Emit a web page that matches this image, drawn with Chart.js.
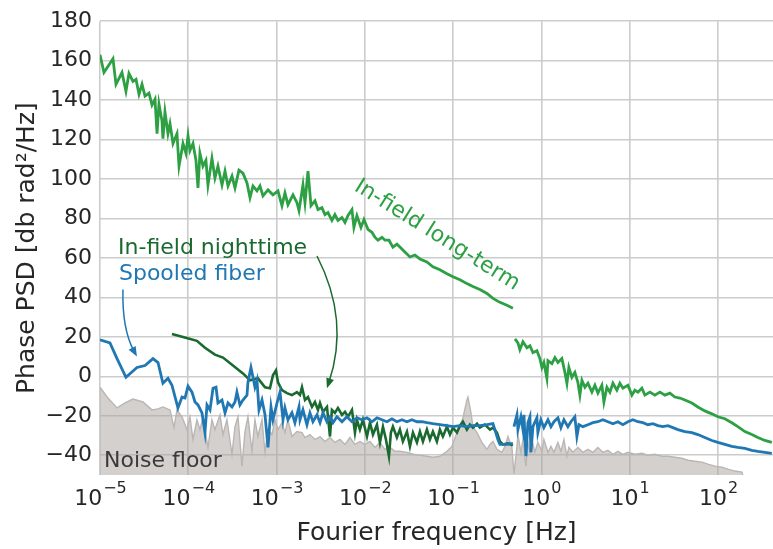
<!DOCTYPE html>
<html>
<head>
<meta charset="utf-8"/>
<style>
  html,body{margin:0;padding:0;background:#fff;}
  canvas{display:block;}
</style>
</head>
<body>
<canvas id="c" width="773" height="549"></canvas>
<script src="https://cdn.jsdelivr.net/npm/chart.js@4.4.0/dist/chart.umd.min.js"></script>
<script>
// frequencies are kept as log10(Hz); values in dB rad^2/Hz
const longTermLogHz = [-5.00,-4.955,-4.853,-4.819,-4.751,-4.706,-4.672,-4.626,-4.592,-4.558,-4.524,-4.490,-4.445,-4.411,-4.377,-4.354,-4.332,-4.298,-4.287,-4.264,-4.230,-4.207,-4.173,-4.128,-4.105,-4.060,-4.026,-4.003,-3.981,-3.947,-3.913,-3.890,-3.868,-3.834,-3.800,-3.777,-3.732,-3.698,-3.664,-3.618,-3.584,-3.550,-3.505,-3.471,-3.426,-3.381,-3.335,-3.301,-3.267,-3.222,-3.188,-3.154,-3.097,-3.041,-2.984,-2.939,-2.905,-2.871,-2.814,-2.769,-2.746,-2.701,-2.678,-2.644,-2.610,-2.565,-2.531,-2.486,-2.452,-2.418,-2.373,-2.339,-2.305,-2.259,-2.225,-2.191,-2.146,-2.124,-2.090,-2.044,-2.010,-1.965,-1.920,-1.886,-1.852,-1.806,-1.772,-1.727,-1.682,-1.637,-1.603,-1.546,-1.489,-1.433,-1.376,-1.297,-1.229,-1.150,-1.070,-1.002,-0.923,-0.844,-0.776,-0.697,-0.617,-0.549,-0.470,-0.391,-0.323,-0.311,
  -0.300,-0.266,-0.244,-0.209,-0.164,-0.130,-0.096,-0.051,-0.017,0.006,0.028,0.062,0.074,0.119,0.153,0.187,0.232,0.266,0.289,0.311,0.345,0.379,0.413,0.436,0.459,0.493,0.527,0.572,0.606,0.640,0.685,0.708,0.742,0.776,0.810,0.855,0.889,0.923,0.980,1.025,1.059,1.093,1.138,1.172,1.229,1.285,1.342,1.399,1.455,1.512,1.569,1.625,1.704,1.772,1.851,1.931,1.999,2.078,2.157,2.225,2.305,2.384,2.452,2.531,2.610];
const longTermDb = [163,154,161,148,154,144.5,153.5,149.5,150.5,143,148,142,143.5,137.5,140.5,123,138,129.5,120.5,134,123,128,118,123,106.5,118,113,122,114.5,118,109.5,95.5,113,106.5,109.5,97,110.5,100.5,106.5,97,104,96.5,101.5,95.5,104.5,103,98,90.5,96.5,94,96.5,91.5,94.5,92,94,86.5,93,87,92,88,84,97,88,104,86.5,89,84.5,85.5,82,83,79,82,79,80.5,78,81.5,84.5,75.5,81.5,75.5,79.5,74.5,73,70.5,69,70.5,69,69,65.5,67,65.5,63,60.5,61.5,59.5,58,55.5,54,52,50.5,49,47,45.5,44,42,39.5,37.5,36,34.5,null,
  19,17,13.5,17.5,14.5,15.5,12,13,9,4.5,7,-1,8,6.5,9.5,7,9,2,-3.5,4.5,-0.5,2,-3,-9.5,-2,-5.5,-3.5,-8,-4.5,-8.5,-4.5,-13,-5.5,-8,-3.5,-7,-3.5,-6,-4.5,-9.5,-7,-8,-6,-9.5,-8,-9.5,-8,-9.5,-8.5,-10.5,-11,-12,-13.5,-15.5,-17.5,-19,-20.5,-21.5,-23.5,-25.5,-28,-29.5,-31,-32.5,-33.5];

const spooledLogHz = [-5.00,-4.887,-4.807,-4.706,-4.581,-4.490,-4.400,-4.343,-4.287,-4.230,-4.185,-4.117,-4.071,-4.037,-4.003,-3.958,-3.924,-3.890,-3.845,-3.811,-3.788,-3.754,-3.720,-3.686,-3.664,-3.618,-3.584,-3.550,-3.505,-3.471,-3.449,-3.415,-3.381,-3.335,-3.324,-3.290,-3.267,-3.245,-3.222,-3.199,-3.165,-3.131,-3.097,-3.063,-3.041,-2.995,-2.961,-2.927,-2.905,-2.871,-2.826,-2.792,-2.746,-2.735,-2.701,-2.656,-2.622,-2.588,-2.542,-2.508,-2.474,-2.429,-2.395,-2.361,-2.316,-2.259,-2.203,-2.146,-2.090,-2.033,-1.976,-1.920,-1.863,-1.806,-1.750,-1.693,-1.637,-1.580,-1.523,-1.467,-1.410,-1.353,-1.297,-1.229,-1.150,-1.070,-1.002,-0.923,-0.844,-0.776,-0.697,-0.617,-0.549,-0.527,-0.493,-0.470,-0.391,-0.323,-0.317,
  -0.311,-0.277,-0.266,-0.232,-0.209,-0.198,-0.175,-0.153,-0.130,-0.119,-0.096,-0.051,-0.040,-0.006,0.028,0.074,0.108,0.142,0.187,0.221,0.255,0.300,0.334,0.379,0.402,0.425,0.470,0.527,0.583,0.640,0.696,0.753,0.810,0.866,0.923,0.980,1.036,1.093,1.149,1.206,1.263,1.319,1.376,1.433,1.489,1.546,1.625,1.704,1.772,1.851,1.931,1.999,2.078,2.157,2.225,2.305,2.384,2.452,2.531,2.610];
const spooledDb = [18.5,17,9,-0.5,4.5,5.5,9,7,-3.5,-1,-4.5,-16,-10.5,-11,-5,-8,-13,-14.5,-18.5,-28.5,-14.5,-17,-6,-5.5,-13.5,-12,-18.5,-13.5,-15.5,-13,-8,-14.5,-12,-9.5,-3,4.5,-0.5,-5.5,-2,-17,-12,-19.5,-36,-15.5,-22,-13.5,-8,-22,-16,-22,-18.5,-23.5,-15.5,-22,-17,-24.5,-18.5,-23,-19.5,-23.5,-18.5,-23,-20.5,-23.5,-20.5,-23,-20.5,-23,-21,-22,-21,-23,-21,-22,-23,-21.5,-23,-22,-23,-22,-23,-23,-23.5,-24,-24.5,-25,-25.5,-25,-25.5,-25,-25,-24.5,-24,-27,-32,-34.5,-34.5,-34,null,
  -25.5,-19.5,-27,-20.5,-27,-19.5,-40.5,-23.5,-20.5,-38.5,-25.5,-21,-28.5,-22,-26,-22,-25.5,-23,-21,-26,-22,-25.5,-23,-20.5,-30.5,-24.5,-25.5,-24.5,-23.5,-23,-22,-23,-24,-23,-24.5,-23,-22,-23,-23.5,-24.5,-24,-25,-25.5,-25,-26,-27,-28,-28.5,-29.5,-31,-32.5,-33.5,-34.5,-35.5,-36,-36.5,-37.5,-38,-38.5,-39];

const nightLogHz = [-4.185,-4.060,-3.902,-3.811,-3.698,-3.607,-3.494,-3.381,-3.301,-3.211,-3.131,-3.075,-3.041,-3.007,-2.984,-2.939,-2.882,-2.826,-2.769,-2.735,-2.712,-2.678,-2.644,-2.599,-2.565,-2.531,-2.508,-2.474,-2.429,-2.395,-2.373,-2.339,-2.305,-2.259,-2.225,-2.191,-2.146,-2.112,-2.090,-2.056,-2.022,-1.976,-1.942,-1.908,-1.863,-1.829,-1.795,-1.761,-1.727,-1.705,-1.682,-1.637,-1.603,-1.569,-1.523,-1.489,-1.455,-1.410,-1.376,-1.342,-1.297,-1.263,-1.229,-1.184,-1.150,-1.116,-1.070,-1.036,-1.002,-0.957,-0.923,-0.889,-0.844,-0.810,-0.776,-0.730,-0.697,-0.640,-0.583,-0.549,-0.504,-0.470,-0.436,-0.379,-0.323];
const nightDb = [21.5,20,18,14.5,11,9.5,5.5,1.5,-2,-1,-5.5,-6,0.5,3,-3,-7,-8.5,-9.5,-8,-9.5,-5.5,-12,-10.5,-15.5,-13,-17,-13.5,-18,-15.5,-30.5,-17,-18.5,-16,-19.5,-18,-20.5,-17,-28.5,-22,-27,-22,-30.5,-23.5,-29.5,-24.5,-33.5,-25.5,-32,-40.5,-28.5,-25.5,-31,-27,-33,-28,-35.5,-28.5,-33.5,-28,-33,-27,-32,-28,-33,-27,-30.5,-25.5,-29.5,-26,-28.5,-25,-23,-27,-24.5,-26,-24,-26,-24.5,-27,-26,-28.5,-33,-34.5,-34,-35];

const noiseLogHz = [-5.00,-4.910,-4.807,-4.717,-4.626,-4.513,-4.411,-4.343,-4.287,-4.207,-4.162,-4.128,-4.071,-4.015,-3.981,-3.947,-3.902,-3.868,-3.834,-3.777,-3.732,-3.698,-3.641,-3.607,-3.562,-3.505,-3.471,-3.437,-3.392,-3.358,-3.324,-3.279,-3.245,-3.211,-3.165,-3.131,-3.097,-3.052,-3.018,-2.984,-2.939,-2.905,-2.871,-2.826,-2.769,-2.712,-2.678,-2.622,-2.565,-2.508,-2.452,-2.395,-2.339,-2.282,-2.225,-2.169,-2.112,-2.056,-1.999,-1.942,-1.886,-1.829,-1.772,-1.716,-1.659,-1.603,-1.523,-1.455,-1.376,-1.297,-1.229,-1.150,-1.070,-1.014,-0.957,-0.923,-0.889,-0.844,-0.832,-0.798,-0.776,-0.730,-0.674,-0.617,-0.583,-0.549,-0.504,-0.447,-0.413,-0.379,-0.334,-0.311,-0.277,-0.266,-0.232,-0.209,-0.175,-0.153,-0.130,-0.108,-0.074,-0.040,0.006,0.028,0.074,0.108,0.142,0.187,0.221,0.255,0.289,0.311,0.357,0.413,0.470,0.527,0.583,0.640,0.696,0.753,0.810,0.866,0.923,0.980,1.059,1.138,1.206,1.285,1.365,1.433,1.512,1.591,1.659,1.738,1.818,1.886,1.965,2.044,2.112,2.191,2.271,2.282];
const noiseDb = [-5.5,-11,-16,-13.5,-11.5,-13,-17,-16.5,-15.5,-17,-26,-17,-20.5,-27,-20.5,-32,-22,-27,-21,-36,-22,-27,-19.5,-29.5,-22,-39.5,-25.5,-20.5,-45.5,-28,-20.5,-38,-22,-30.5,-22,-38.5,-27,-29.5,-22,-27,-23.5,-28.5,-22,-30.5,-28,-28.5,-31,-29.5,-32,-30.5,-33,-31,-33.5,-32,-34.5,-31,-34.5,-33,-34.5,-33,-36,-33.5,-37,-36,-38,-38,-38.5,-39.5,-40,-40.5,-41,-40.5,-38,-35.5,-28.5,-25.5,-21,-12,-10.5,-18.5,-25.5,-28.5,-33.5,-37,-34.5,-33,-37,-38.5,-35.5,-30.5,-36,-49.5,-35.5,-29.5,-38.5,-32,-45.5,-33.5,-38.5,-32,-38.5,-33.5,-38,-32,-38.5,-35.5,-38.5,-33.5,-38,-32,-40.5,-36,-38.5,-36,-38.5,-37,-38.5,-36,-38.5,-37.5,-39.5,-38,-39.5,-38.5,-39.5,-39,-40,-39.5,-40.5,-40.5,-41,-41.5,-42.5,-43,-43.5,-44.5,-45.5,-46,-47,-48,-48.5,-50];

const xTickValues = [1e-5,1e-4,1e-3,1e-2,1e-1,1e0,1e1,1e2];
const xTickBase = "10";
const xTickExponents = ['−5','−4','−3','−2','−1','0','1','2'];
const yTickValues = [-40,-20,0,20,40,60,80,100,120,140,160,180];
const yTickLabels = ['−40','−20','0','20','40','60','80','100','120','140','160','180'];

const GREEN = "#2ca043";
const NIGHT = "#1a6a2f";
const BLUE  = "#1f77b4";
const GRID  = "#cccccc";
const INK   = "#262626";
const FONT  = "DejaVu Sans";

const toPoints = (logHz, db) => logHz.map((e, i) => ({ x: Math.pow(10, e), y: db[i] }));

// power-of-ten tick labels with a raised exponent, like mathtext
const decadeLabels = {
  id: "decadeLabels",
  afterDraw(chart) {
    const { ctx, scales: { x }, chartArea } = chart;
    ctx.save();
    ctx.fillStyle = INK;
    ctx.textBaseline = "alphabetic";
    x.ticks.forEach((t, i) => {
      const cx = x.getPixelForValue(t.value);
      const exp = xTickExponents[i];
      ctx.font = `22px "${FONT}"`;
      const wb = ctx.measureText(xTickBase).width;
      ctx.font = `16px "${FONT}"`;
      const we = ctx.measureText(exp).width;
      const left = cx - (wb + we) / 2;
      ctx.font = `22px "${FONT}"`;
      ctx.fillText(xTickBase, left, chartArea.bottom + 30);
      ctx.font = `16px "${FONT}"`;
      ctx.fillText(exp, left + wb + 1, chartArea.bottom + 18);
    });
    ctx.restore();
  }
};

// labels and arrows, placed in data coordinates
const notes = {
  id: "notes",
  afterDatasetsDraw(chart) {
    const { ctx, scales: { x, y } } = chart;
    const px = f => x.getPixelForValue(f), py = v => y.getPixelForValue(v);
    ctx.save();
    ctx.font = `22px "${FONT}"`;
    ctx.textBaseline = "alphabetic";
    ctx.fillStyle = NIGHT; ctx.fillText("In-field nighttime", px(1.6e-5), py(62));
    ctx.fillStyle = BLUE;  ctx.fillText("Spooled fiber", px(1.64e-5), py(49));
    ctx.fillStyle = "#3a3a3a"; ctx.fillText("Noise floor", px(1.11e-5), py(-46));

    ctx.save();
    ctx.translate(px(0.0656), py(71.5));
    ctx.rotate(32 * Math.PI / 180);
    ctx.textAlign = "center"; ctx.textBaseline = "middle";
    ctx.fillStyle = GREEN; ctx.fillText("In-field long-term", 0, 0);
    ctx.restore();

    arrow([[1.82e-5, 44], [1.77e-5, 24], [2.62e-5, 10]], BLUE);
    arrow([[2.87e-3, 61], [6.78e-3, 28.5], [3.72e-3, -6]], NIGHT);
    ctx.restore();

    function arrow(pts, color) {
      const p = pts.map(([f, v]) => [px(f), py(v)]);
      const a = Math.atan2(p[2][1] - p[1][1], p[2][0] - p[1][0]);
      ctx.strokeStyle = color; ctx.fillStyle = color; ctx.lineWidth = 1.5;
      ctx.beginPath();
      ctx.moveTo(p[0][0], p[0][1]);
      ctx.quadraticCurveTo(p[1][0], p[1][1], p[2][0] - 6 * Math.cos(a), p[2][1] - 6 * Math.sin(a));
      ctx.stroke();
      ctx.beginPath();
      ctx.moveTo(p[2][0], p[2][1]);
      ctx.lineTo(p[2][0] - 10 * Math.cos(a) + 4 * Math.sin(a), p[2][1] - 10 * Math.sin(a) - 4 * Math.cos(a));
      ctx.lineTo(p[2][0] - 10 * Math.cos(a) - 4 * Math.sin(a), p[2][1] - 10 * Math.sin(a) + 4 * Math.cos(a));
      ctx.closePath(); ctx.fill();
    }
  }
};

new Chart(document.getElementById("c"), {
  type: "line",
  data: {
    datasets: [
      { label: "Spooled fiber", data: toPoints(spooledLogHz, spooledDb), borderColor: BLUE, borderWidth: 2.8, order: 1 },
      { label: "In-field nighttime", data: toPoints(nightLogHz, nightDb), borderColor: NIGHT, borderWidth: 2.6, order: 2 },
      { label: "In-field long-term", data: toPoints(longTermLogHz, longTermDb), borderColor: GREEN, borderWidth: 2.8, order: 3 },
      { label: "Noise floor", data: toPoints(noiseLogHz, noiseDb), borderColor: "#bab6b4", borderWidth: 1.4,
        backgroundColor: "rgba(169,161,157,0.5)", fill: "start", order: 4 }
    ]
  },
  options: {
    responsive: false, animation: false, devicePixelRatio: 1,
    spanGaps: false,
    layout: { padding: { top: 16, right: 0, bottom: 0, left: 0 } },
    elements: { point: { radius: 0 }, line: { tension: 0 } },
    plugins: { legend: { display: false }, tooltip: { enabled: false } },
    scales: {
      x: {
        type: "logarithmic", min: 1e-5, max: 420,
        afterBuildTicks: s => { s.ticks = xTickValues.map(v => ({ value: v })); },
        afterFit: s => { s.height = 74; },
        grid: { color: GRID, lineWidth: 1.6, drawTicks: false },
        border: { display: false },
        ticks: { display: false },
        title: { display: true, text: "Fourier frequency [Hz]", color: INK,
                 font: { family: FONT, size: 25 }, padding: { top: 0, bottom: 1 } }
      },
      y: {
        min: -50, max: 180,
        afterBuildTicks: s => { s.ticks = yTickValues.map(v => ({ value: v })); },
        afterFit: s => { s.width = 100; },
        grid: { color: GRID, lineWidth: 1.6, drawTicks: false },
        border: { display: false },
        ticks: { callback: (v, i) => yTickLabels[i], color: INK, font: { family: FONT, size: 22 }, padding: 8 },
        title: { display: true, text: "Phase PSD [db rad²/Hz]", color: INK,
                 font: { family: FONT, size: 25 }, padding: { top: 12, bottom: 0 } }
      }
    }
  },
  plugins: [notes, decadeLabels]
});
</script>
</body>
</html>
